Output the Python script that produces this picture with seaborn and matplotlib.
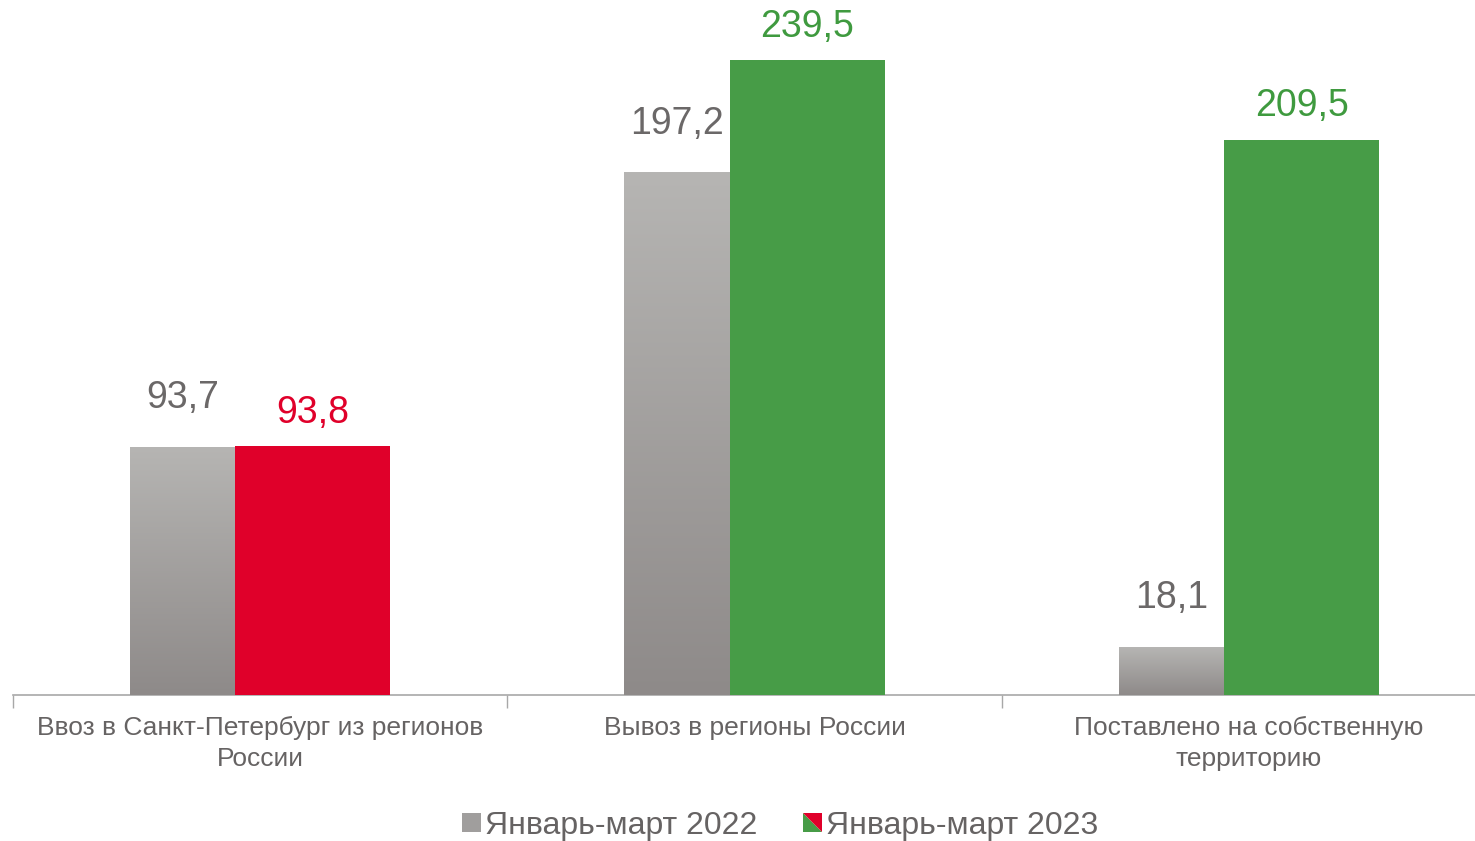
import numpy as np
import pandas as pd
import seaborn as sns
import matplotlib.pyplot as plt
from matplotlib.patches import Polygon, Rectangle
from matplotlib.legend_handler import HandlerBase
from matplotlib.colors import LinearSegmentedColormap

# data
categories = ["Ввоз в Санкт-Петербург из регионов\nРоссии",
              "Вывоз в регионы России",
              "Поставлено на собственную\nтерриторию"]
periods = ["Январь-март 2022", "Январь-март 2023"]
vals_2022 = [93.7, 197.2, 18.1]
vals_2023 = [93.8, 239.5, 209.5]
colors_2023 = ["#e0002a", "#479c47", "#479c47"]
label_colors_2023 = ["#e0002a", "#3f9a3f", "#3f9a3f"]

df = pd.DataFrame({
    "cat": categories * 2,
    "period": [periods[0]] * 3 + [periods[1]] * 3,
    "value": vals_2022 + vals_2023,
})

sns.set_style("white")
plt.rcParams["font.family"] = ["Liberation Sans", "DejaVu Sans"]

fig = plt.figure(figsize=(14.75, 8.41), dpi=100)
ax = fig.add_axes([13 / 1475, 1 - 695 / 841, 1 - 13 / 1475, 675 / 841])

sns.barplot(data=df, x="cat", y="value", hue="period",
            palette=["#a09e9d", "#479c47"], dodge=True, width=0.53,
            legend=False, ax=ax, saturation=1, linewidth=0)

# grey bars narrower, coloured bars wider (as in the original)
gray_w, col_w = 0.2126, 0.314
left0 = -(gray_w + col_w) / 2
grad = np.linspace(0, 1, 256).reshape(-1, 1)
gcmap = LinearSegmentedColormap.from_list("g", ["#8e8a89", "#b6b5b3"])

for i, bar in enumerate(ax.containers[0]):
    bar.set_x(i + left0)
    bar.set_width(gray_w)
    h = bar.get_height()
    bar.set_facecolor("none")
    bar.set_edgecolor("none")
    im = ax.imshow(grad, cmap=gcmap, aspect="auto", origin="lower",
                   extent=[i + left0, i + left0 + gray_w, 0, h], zorder=2)
    im.set_clip_path(bar)
    ax.annotate(f"{vals_2022[i]:.1f}".replace(".", ","),
                (i + left0 + gray_w / 2, h), xytext=(0, 22),
                textcoords="offset points", ha="center", va="bottom",
                fontsize=27, color="#6b6868")

for i, bar in enumerate(ax.containers[1]):
    bar.set_x(i + left0 + gray_w)
    bar.set_width(col_w)
    bar.set_facecolor(colors_2023[i])
    bar.set_edgecolor("none")
    bar.set_zorder(3)
    h = bar.get_height()
    ax.annotate(f"{vals_2023[i]:.1f}".replace(".", ","),
                (i + left0 + gray_w + col_w / 2, h), xytext=(0, 11),
                textcoords="offset points", ha="center", va="bottom",
                fontsize=27, color=label_colors_2023[i])

ax.set_xlim(-0.5, 2.457)
ax.set_ylim(0, 675 / 2.651)
ax.set_xlabel("")
ax.set_ylabel("")
ax.set_yticks([])
ax.set_xticks(range(3))
ax.set_xticklabels(categories, fontsize=19, color="#666363", linespacing=1.35)
ax.set_xticks([-0.5, 0.5, 1.5], minor=True)
ax.tick_params(axis="x", which="major", length=0, pad=15)
ax.tick_params(axis="x", which="minor", length=9, width=1, color="#a8a8a8",
               bottom=True, direction="out")
for s in ["top", "right", "left"]:
    ax.spines[s].set_visible(False)
ax.spines["bottom"].set_color("#a8a8a8")
ax.spines["bottom"].set_linewidth(1.2)
ax.spines["bottom"].set_zorder(1)


# legend with split red/green marker
class SplitHandler(HandlerBase):
    def create_artists(self, legend, orig_handle, xdescent, ydescent,
                       width, height, fontsize, trans):
        s = min(width, height)
        x0 = -xdescent + (width - s) / 2
        y0 = -ydescent + (height - s) / 2
        red = Polygon([[x0, y0 + s], [x0 + s, y0 + s], [x0 + s, y0]],
                      closed=True, facecolor="#e0002a", edgecolor="none",
                      transform=trans)
        green = Polygon([[x0, y0 + s], [x0, y0], [x0 + s, y0]],
                        closed=True, facecolor="#479c47", edgecolor="none",
                        transform=trans)
        return [green, red]


class SquareHandler(HandlerBase):
    def create_artists(self, legend, orig_handle, xdescent, ydescent,
                       width, height, fontsize, trans):
        s = min(width, height)
        x0 = -xdescent + (width - s) / 2
        y0 = -ydescent + (height - s) / 2
        return [Rectangle((x0, y0), s, s, facecolor="#a09e9d",
                          edgecolor="none", transform=trans)]


h1 = Rectangle((0, 0), 1, 1)
h2 = Polygon([[0, 0], [1, 1], [1, 0]])
leg = fig.legend([h1, h2], periods, loc="center", bbox_to_anchor=(0.529, 1 - 826 / 841),
                 ncol=2, frameon=False, fontsize=23, handlelength=0.58,
                 handleheight=0.58, handletextpad=0.12, columnspacing=1.45,
                 handler_map={Rectangle: SquareHandler(), Polygon: SplitHandler()})
for t in leg.get_texts():
    t.set_color("#666363")

plt.savefig("out.png", dpi=100)
